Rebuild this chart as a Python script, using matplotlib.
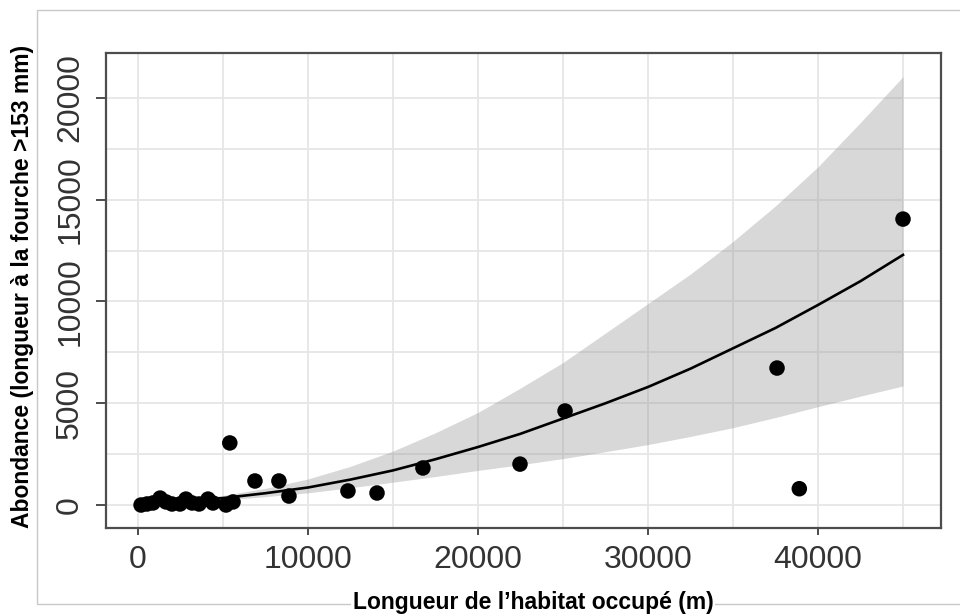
import matplotlib
matplotlib.use("Agg")
import matplotlib.pyplot as plt
from matplotlib.patches import Rectangle
from matplotlib.ticker import MultipleLocator

# observed points: habitat length (m) vs abundance
hab_x = [180, 530, 880, 1300, 1650, 2000, 2470, 2820, 3180, 3590, 4120, 4410,
         5180, 5590, 5400, 6880, 8290, 8880, 12350, 14060, 16760,
         22470, 25120, 37590, 38900, 45000]
abund_y = [0, 50, 100, 340, 150, 50, 50, 290, 100, 50, 290, 100,
           0, 150, 3050, 1180, 1180, 440, 690, 590, 1820,
           2010, 4620, 6730, 800, 14050]

# fitted curve and confidence band
fit_x = [0, 2500, 5000, 7500, 10000, 12500, 15000, 17500, 20000, 22500,
         25000, 27500, 30000, 32500, 35000, 37500, 40000, 42500, 45000]
fit_y = [80, 180, 340, 580, 860, 1250, 1700, 2250, 2850, 3500,
         4250, 5000, 5800, 6700, 7700, 8700, 9830, 11000, 12290]
fit_hi = [130, 260, 470, 820, 1280, 1900, 2650, 3550, 4550, 5750,
          7000, 8450, 9900, 11350, 12950, 14700, 16620, 18800, 21050]
fit_lo = [40, 120, 240, 410, 600, 850, 1120, 1400, 1700, 1980,
          2280, 2620, 2970, 3370, 3800, 4300, 4830, 5350, 5850]

plt.rcParams['font.family'] = ['Liberation Sans', 'DejaVu Sans']

fig = plt.figure(figsize=(9.6, 6.14), dpi=100)
fig.patch.set_facecolor('white')

# light frame around the whole figure
fig.patches.append(Rectangle((37 / 960, 1 - 604 / 614), 930 / 960, 594 / 614,
                             transform=fig.transFigure, fill=False,
                             edgecolor='#c8c8c8', lw=1.0, zorder=0))

ax = fig.add_axes([106 / 960, 1 - 528 / 614, 835 / 960, 475 / 614])
ax.set_xlim(-1882, 47235)
ax.set_ylim(-1130, 22211)

ax.xaxis.set_major_locator(MultipleLocator(10000))
ax.xaxis.set_minor_locator(MultipleLocator(5000))
ax.yaxis.set_major_locator(MultipleLocator(5000))
ax.yaxis.set_minor_locator(MultipleLocator(2500))
ax.grid(True, which='both', color='#e6e6e6', lw=1.3, zorder=0)
ax.set_axisbelow(True)

ax.fill_between(fit_x, fit_lo, fit_hi, color='#999999', alpha=0.38, lw=0, zorder=2)
ax.plot(fit_x, fit_y, color='black', lw=1.9, zorder=3)
ax.scatter(hab_x, abund_y, s=125, color='black', edgecolors='none', zorder=4)

for sp in ax.spines.values():
    sp.set_color('#4d4d4d')
    sp.set_linewidth(1.6)

ax.tick_params(axis='both', which='minor', length=0)
ax.tick_params(axis='both', which='major', color='#4d4d4d', width=1.4,
               labelsize=23, labelcolor='#333333')
ax.tick_params(axis='x', which='major', length=5, pad=7)
ax.tick_params(axis='y', which='major', length=7, pad=8, labelrotation=90)
for lab in ax.get_yticklabels():
    lab.set_va('center')

fig.text(533 / 960, 1 - 602 / 614, "Longueur de l\u2019habitat occup\u00e9 (m)",
         ha='center', va='center', fontsize=16.5, fontweight='bold',
         bbox=dict(facecolor='white', edgecolor='none', pad=1.5))
fig.text(23 / 960, 1 - 286 / 614, "Abondance (longueur \u00e0 la fourche >153 mm)",
         ha='center', va='center', rotation=90, fontsize=16.5, fontweight='bold')

fig.savefig("out.png", dpi=100)
